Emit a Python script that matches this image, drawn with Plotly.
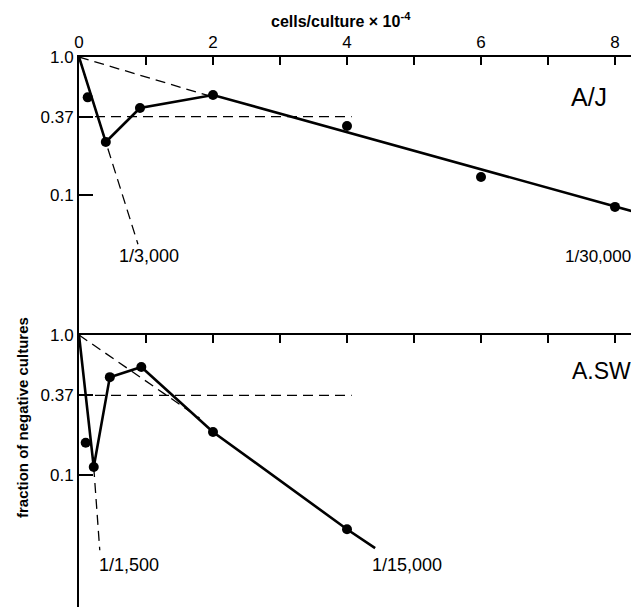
import plotly.graph_objects as go

# ---- data (x in cells/culture x 10^-4, y = fraction of negative cultures) ----
aj_pts_x = [0.13, 0.40, 0.91, 2.0, 4.0, 6.0, 8.0]
aj_pts_y = [0.51, 0.242, 0.427, 0.53, 0.316, 0.135, 0.082]
aj_line_x = [0, 0.40, 0.91, 2.0, 8.36]
aj_line_y = [1.0, 0.242, 0.427, 0.53, 0.074]
aj_fit_low_x = [0, 0.88]
aj_fit_low_y = [1.0, 0.044]
aj_fit_high_x = [0, 2.0]
aj_fit_high_y = [1.0, 0.513]

asw_pts_x = [0.10, 0.22, 0.46, 0.93, 2.0, 4.0]
asw_pts_y = [0.17, 0.114, 0.50, 0.59, 0.203, 0.041]
asw_line_x = [0, 0.22, 0.46, 0.93, 2.0, 4.0, 4.42]
asw_line_y = [1.0, 0.114, 0.50, 0.59, 0.203, 0.041, 0.030]
asw_fit_low_x = [0.22, 0.31]
asw_fit_low_y = [0.114, 0.029]
asw_fit_high_x = [0, 1.8]
asw_fit_high_y = [1.0, 0.255]

ref_x = [0, 4.07]
ref_y = [0.37, 0.37]

x_tickvals = [0, 2, 4, 6, 8]
x_ticktext = ["0", "2", "4", "6", "8"]
y_tickvals = [1.0, 0.37, 0.1]
y_ticktext = ["1.0", "0.37", "0.1"]

FONT = "Liberation Sans, Arial, sans-serif"
OFF = 8  # page body margin
W, H = 639 - OFF, 607 - OFF
L, T = 79 - OFF, 57 - OFF
PW, PH = W - L, H - T
split = (H - (335 - OFF)) / PH

fig = go.Figure()

def dashed(x, y, xa, ya):
    fig.add_trace(go.Scatter(x=x, y=y, xaxis=xa, yaxis=ya, mode="lines",
                             line=dict(color="black", width=1.3, dash="10px,6px"),
                             hoverinfo="skip", cliponaxis=False))

for (xa, ya, px, py, lx, ly, fl, fh) in [
    ("x", "y", aj_pts_x, aj_pts_y, aj_line_x, aj_line_y,
     (aj_fit_low_x, aj_fit_low_y), (aj_fit_high_x, aj_fit_high_y)),
    ("x2", "y2", asw_pts_x, asw_pts_y, asw_line_x, asw_line_y,
     (asw_fit_low_x, asw_fit_low_y), (asw_fit_high_x, asw_fit_high_y)),
]:
    dashed(ref_x, ref_y, xa, ya)
    dashed(fl[0], fl[1], xa, ya)
    dashed(fh[0], fh[1], xa, ya)
    fig.add_trace(go.Scatter(x=lx, y=ly, xaxis=xa, yaxis=ya, mode="lines",
                             line=dict(color="black", width=2.6),
                             cliponaxis=False))
    fig.add_trace(go.Scatter(x=px, y=py, xaxis=xa, yaxis=ya, mode="markers",
                             marker=dict(color="black", size=10),
                             cliponaxis=False))

xcommon = dict(range=[0, PW / 67.0], side="top", showline=True, linecolor="black",
               linewidth=2, ticks="inside", ticklen=8, tickwidth=1.5, tickcolor="black",
               tickvals=x_tickvals, ticktext=x_ticktext, showgrid=False, zeroline=False,
               minor=dict(ticks="inside", ticklen=8, tickwidth=1.5, tickcolor="black",
                          dtick=1, tick0=0, showgrid=False),
               tickfont=dict(family=FONT, size=17, color="black"))
ycommon = dict(type="log", showline=True, linecolor="black", linewidth=2,
               ticks="inside", ticklen=14, tickwidth=1.5, tickcolor="black",
               tickvals=y_tickvals, ticktext=y_ticktext, showgrid=False, zeroline=False,
               tickfont=dict(family=FONT, size=17, color="black"))

fig.update_layout(
    width=W, height=H,
    margin=dict(l=L, r=0, t=T, b=0),
    paper_bgcolor="white", plot_bgcolor="white",
    showlegend=False,
    xaxis=dict(anchor="y", **xcommon),
    xaxis2=dict(anchor="y2", matches="x", showticklabels=False, **xcommon),
    yaxis=dict(domain=[split, 1], range=[-(335 - 57) / 138.0, 0], anchor="x", **ycommon),
    yaxis2=dict(domain=[0, split], range=[-(607 - 335) / 140.0, 0], anchor="x2", **ycommon),
)

def px2paper(xp, yp):
    # xp, yp are reference-screen pixels
    return (xp - OFF - L) / PW, (H - (yp - OFF)) / PH

def ann(text, xp, yp, size, bold=False, angle=0, xanchor="center"):
    x, y = px2paper(xp, yp)
    fig.add_annotation(x=x, y=y, xref="paper", yref="paper", text=text, showarrow=False,
                       xanchor=xanchor, yanchor="middle", textangle=angle,
                       font=dict(family=FONT, size=size, color="black",
                                 weight="bold" if bold else "normal"))

ann("cells/culture × 10<sup>-4</sup>", 341, 20, 16, bold=True)
ann("fraction of negative cultures", 22, 418, 15, bold=True, angle=-90)
ann("A/J", 589, 97, 25)
ann("A.SW", 601, 371, 23)
ann("1/3,000", 149, 256, 18)
ann("1/30,000", 633, 256, 17, xanchor="right")
ann("1/1,500", 129, 565, 18)
ann("1/15,000", 407, 565, 18)

fig.write_html("out.html")
